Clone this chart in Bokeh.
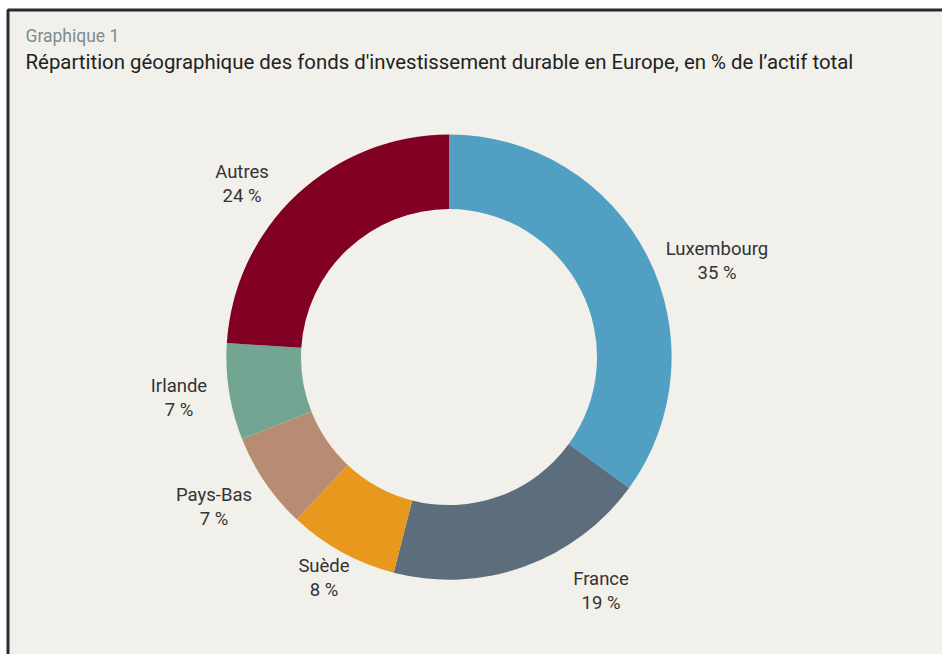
import math
from bokeh.plotting import figure
from bokeh.models import Range1d, ColumnDataSource
from bokeh.core.properties import value
from bokeh.embed import file_html
from bokeh.resources import INLINE

# ---- data ----
categories = ["Luxembourg", "France", "Suède", "Pays-Bas", "Irlande", "Autres"]
shares = [35, 19, 8, 7, 7, 24]
colors = ["#519fc2", "#5c6e7b", "#e8991d", "#b88c72", "#72a692", "#810024"]
title_small = "Graphique 1"
title_main = "Répartition géographique des fonds d'investissement durable en Europe, en % de l’actif total"

# label placement (offset from pie centre, screen px; x right, y up)
label_dx = [268, 152, -125, -235, -270, -207]
label_dy = [96, -234, -221, -150, -41, 173]

W, H = 942, 654
BG = "#f1f0ea"

p = figure(width=W, height=H, output_backend="svg", toolbar_location=None,
           x_range=Range1d(0, W), y_range=Range1d(0, H), min_border=0,
           background_fill_color="white", border_fill_color="white")
p.axis.visible = False
p.grid.visible = False
p.outline_line_color = None

# panel background and frame (left and top edges)
p.quad(left=[7.5], right=[W + 5], bottom=[-5], top=[H - 9.5],
       fill_color=BG, line_color=None)
p.line(x=[7.5, 7.5, W + 5], y=[-5, H - 9.5, H - 9.5],
       line_color="#2b2b2b", line_width=3)

cx, cy = 448.5, 297.4
r_out, r_in = 222.6, 148

total = sum(shares)
starts, ends = [], []
a = math.pi / 2
for s in shares:
    starts.append(a)
    a -= 2 * math.pi * s / total
    ends.append(a)

src = ColumnDataSource(dict(cat=categories, share=shares, color=colors,
                            start=starts, end=ends,
                            x=[cx] * len(shares), y=[cy] * len(shares)))
p.annular_wedge(x="x", y="y", inner_radius=r_in, outer_radius=r_out,
                inner_radius_units="screen", outer_radius_units="screen",
                start_angle="start", end_angle="end", direction="clock",
                fill_color="color", line_color=None, source=src)

lab = ColumnDataSource(dict(
    x=[cx + d for d in label_dx], y=[cy + d for d in label_dy],
    t=[f"{c}\n{s} %" for c, s in zip(categories, shares)]))
p.text(x="x", y="y", text="t", source=lab, text_font=value("Roboto"),
       text_font_size="18.5px", text_color="#333333", text_align="center",
       text_baseline="middle", text_line_height=1.12)

# titles
p.text(x=[25], y=[H - 35], text=[title_small], text_font=value("Roboto"),
       text_font_size="17.5px", text_color="#7d8b90", text_baseline="middle")
p.text(x=[25], y=[H - 61], text=[title_main], text_font=value("Roboto"),
       text_font_size="20.4px", text_color="#222222", text_baseline="middle")

open("out.html", "w").write(file_html(p, INLINE))
